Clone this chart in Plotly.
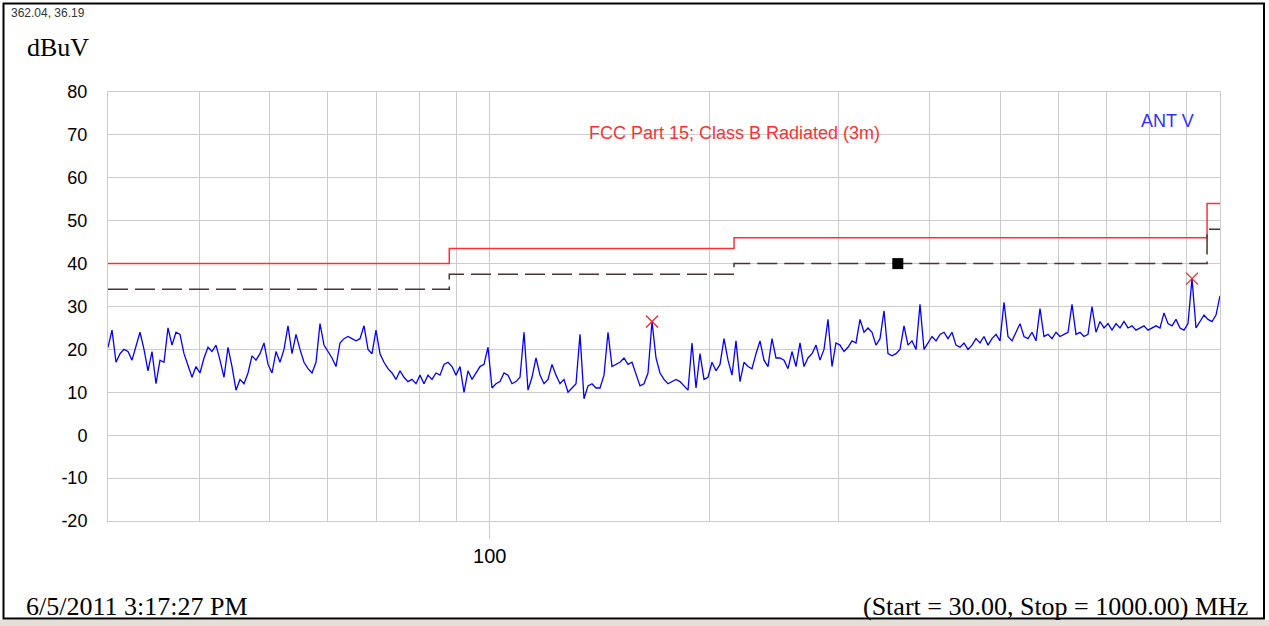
import numpy as np
import plotly.graph_objects as go

# Sweep settings (from the chart footer)
start_mhz = 30.0
stop_mhz = 1000.0

levels = [
    20.5, 24.5, 17, 19, 20, 19.5, 17.5, 20.5, 24, 20, 15, 19.5, 12, 17.5, 17, 25, 21, 24, 23.5, 19, 16, 13.5, 16, 14.5, 18,
    20.5, 19.5, 21, 17.5, 13.5, 20.5, 16, 10.5, 13, 12, 14.5, 18.5, 17.5, 19, 21.5, 16.5, 14.5, 19.5, 17, 20, 25.5, 19, 23.5, 20, 17,
    15.5, 14.5, 17, 26, 21, 19.5, 18, 16, 21.5, 22.5, 23, 22.5, 22, 22.5, 25.5, 20, 19, 24.5, 19, 17, 15.5, 14.5, 13, 15, 13.5,
    12.5, 13, 12, 14, 12, 14, 13, 14.5, 14, 16.5, 17, 16, 14, 16, 10, 15, 13, 14.5, 16, 16.5, 20.5, 11, 12, 12.5, 14.5,
    14, 12, 12.5, 13.5, 24, 10.5, 13.5, 18, 14, 12, 13, 16.5, 14, 12, 13, 10, 11, 12, 23.5, 8.5, 11.5, 12, 11, 11, 14,
    24, 16, 16.5, 17, 18, 16.5, 17, 14, 11.5, 12, 14.5, 26.5, 18, 14.5, 13, 12, 12.5, 13, 12.5, 11.5, 10.5, 21.5, 11, 19, 13,
    13.5, 17, 15, 16.5, 22.5, 17.5, 14, 22, 12.5, 17, 16, 15.5, 19, 22, 17.5, 16, 22.5, 18, 18, 17.5, 15.5, 19.5, 16, 21.5, 16,
    18, 19, 21, 17.5, 20, 27, 16, 21.5, 21, 19.5, 20.5, 22, 21.5, 27, 24, 25, 24, 21, 22.5, 29, 19, 18.5, 19, 20, 25.5,
    21, 22, 20, 30.5, 20, 21.5, 23, 22, 23.5, 24, 22.5, 24, 21, 20.5, 21.5, 20, 21, 22.5, 21.5, 23, 21, 22.5, 23.5, 22, 31,
    23, 22, 24, 26, 23, 22.5, 24, 22, 29.5, 23, 23.5, 22.5, 24, 23, 23.5, 24, 30.5, 23.5, 24, 23, 23.5, 30, 24, 26.5, 25,
    26, 24.5, 26, 25, 26.5, 25, 25.5, 24.5, 25, 25.5, 24.5, 25, 25.5, 25, 28.5, 26, 25.5, 27, 25, 24.5, 26, 36.5, 25, 26.5, 28,
    27, 26.5, 28, 32.5,
]
freqs = np.geomspace(start_mhz, stop_mhz, len(levels))

# FCC Part 15 Class B radiated (3m) limit and margin line
limit_freqs = [30, 88, 216, 960, 1000]
limit_levels = [40, 43.5, 46, 54, 54]
margin_levels = [34, 37.5, 40, 48, 48]

# Peak markers
peak_freqs = [166.8, 915.5]
peak_levels = [26.5, 36.5]

# Cursor marker
cursor_freq = [362.04]
cursor_level = [40]

y_ticks = list(range(-20, 81, 10))
y_tick_text = [str(v) for v in y_ticks]
x_grid = [30, 40, 50, 60, 70, 80, 90, 100, 200, 300, 400, 500, 600, 700, 800, 900, 1000]

fig = go.Figure()

fig.add_trace(go.Scatter(x=limit_freqs, y=limit_levels, mode="lines",
                         line=dict(color="#ff3030", width=1.5, shape="hv"),
                         hoverinfo="skip", showlegend=False))
fig.add_trace(go.Scatter(x=limit_freqs, y=margin_levels, mode="lines",
                         line=dict(color="#4a3434", width=1.5, shape="hv", dash="20px,7px"),
                         hoverinfo="skip", showlegend=False))
fig.add_trace(go.Scatter(x=freqs, y=levels, mode="lines",
                         line=dict(color="#0000ff", width=1.3),
                         showlegend=False))
fig.add_trace(go.Scatter(x=peak_freqs, y=peak_levels, mode="markers",
                         marker=dict(symbol="x-thin-open", size=12, color="#ff2020",
                                     line=dict(color="#ff2020", width=1.2)),
                         showlegend=False))
fig.add_trace(go.Scatter(x=cursor_freq, y=cursor_level, mode="markers",
                         marker=dict(symbol="square", size=11, color="black"),
                         showlegend=False))

grid_col = "#cccccc"
fig.update_layout(
    width=1269, height=626,
    margin=dict(l=108, r=49, t=92, b=105),
    paper_bgcolor="white", plot_bgcolor="white",
    font=dict(family="Liberation Sans, Arial, sans-serif", color="black"),
    xaxis=dict(type="log", range=[np.log10(start_mhz), np.log10(stop_mhz)],
               tickvals=[100], ticktext=["100"], ticks="outside", ticklen=17,
               tickcolor=grid_col, tickfont=dict(size=20),
               showgrid=False, zeroline=False,
               showline=True, linecolor=grid_col, mirror=True,
               minor=dict(tickvals=x_grid, showgrid=True, gridcolor=grid_col,
                          gridwidth=1, ticks="")),
    yaxis=dict(range=[-20, 80], tickvals=y_ticks, ticktext=y_tick_text, ticks="",
               tickfont=dict(size=18), ticklabelstandoff=16,
               showgrid=True, gridcolor=grid_col, gridwidth=1, zeroline=False,
               showline=True, linecolor=grid_col, mirror=True),
)

def px_x(px):
    return (px - 108) / 1112.0

def px_y(py):
    return (521 - py) / 429.0

serif = "Liberation Serif, Times New Roman, serif"
ann = [
    dict(text="FCC Part 15; Class B Radiated (3m)", x=px_x(734), y=px_y(133),
         xanchor="center", yanchor="middle", font=dict(size=18, color="#ff3030")),
    dict(text="ANT V", x=px_x(1167), y=px_y(121), xanchor="center", yanchor="middle",
         font=dict(size=18, color="#3030ff")),
    dict(text="dBuV", x=px_x(25), y=px_y(48), xanchor="left", yanchor="middle",
         font=dict(size=26, family=serif)),
    dict(text="362.04, 36.19", x=px_x(9), y=px_y(13), xanchor="left", yanchor="middle",
         font=dict(size=12, color="#333333")),
    dict(text="6/5/2011 3:17:27 PM", x=px_x(24), y=px_y(606), xanchor="left", yanchor="middle",
         font=dict(size=26, family=serif)),
    dict(text="(Start = 30.00, Stop = 1000.00) MHz", x=px_x(1250), y=px_y(606),
         xanchor="right", yanchor="middle", font=dict(size=26, family=serif)),
]
for a in ann:
    a.update(xref="paper", yref="paper", showarrow=False)
fig.update_layout(annotations=ann)

fig.update_layout(shapes=[
    dict(type="rect", xref="paper", yref="paper", x0=px_x(0), x1=px_x(1269),
         y0=px_y(620), y1=px_y(626), fillcolor="#e4e0d8", line=dict(width=0), layer="below"),
    dict(type="rect", xref="paper", yref="paper", x0=px_x(3.5), x1=px_x(1264),
         y0=px_y(618.5), y1=px_y(3.5), line=dict(color="black", width=2),
         fillcolor="rgba(0,0,0,0)", layer="above"),
])

fig.write_html("out.html", config={"displayModeBar": False},
               post_script="document.body.style.margin='0px';document.body.style.overflow='hidden';")
